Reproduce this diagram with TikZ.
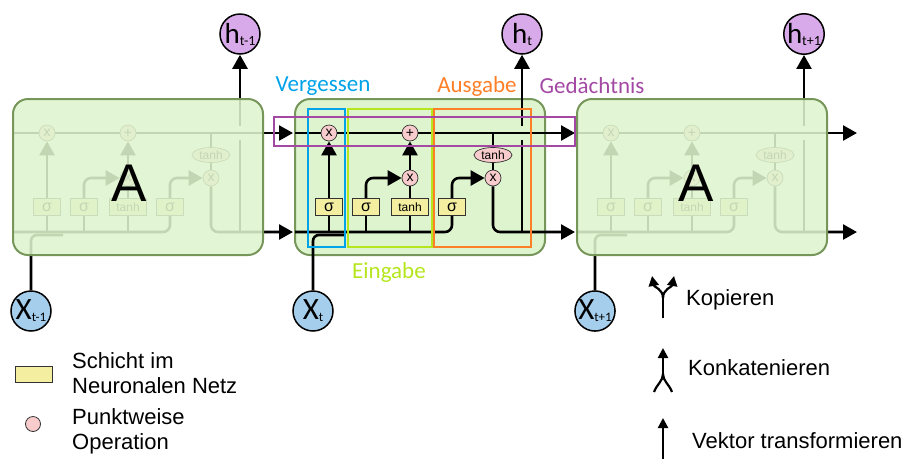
\documentclass[tikz,border=0pt]{standalone}
\usepackage{fontspec}
\setmainfont{Liberation Sans}
\newfontfamily\carl{Carlito}
\usetikzlibrary{arrows.meta,shapes.geometric,calc}
\definecolor{boxfill}{RGB}{222,244,206}
\definecolor{boxline}{RGB}{118,150,90}
\definecolor{opfill}{RGB}{248,204,204}
\definecolor{layerfill}{RGB}{243,238,160}
\definecolor{hfill}{RGB}{217,170,234}
\definecolor{xfill}{RGB}{164,206,236}
\definecolor{cblue}{RGB}{0,162,232}
\definecolor{cgreen}{RGB}{181,230,29}
\definecolor{corange}{RGB}{255,127,39}
\definecolor{cpurple}{RGB}{163,73,164}
\tikzset{
  wire/.style={line width=2.6pt, black},
  arr/.style={wire,-{Triangle[length=14pt,width=15pt]}},
  opnode/.style={circle, draw=black!80, line width=0.7pt, fill=opfill, minimum size=16pt, inner sep=0pt, font=\fontsize{14}{14}\selectfont},
  layerbox/.style={rectangle, draw=black!80, line width=0.7pt, fill=layerfill, minimum height=17pt, minimum width=27pt, inner sep=0pt, font=\fontsize{16}{16}\selectfont},
  tanhbox/.style={layerbox, minimum width=37pt, font=\fontsize{12}{12}\selectfont},
  tanhell/.style={ellipse, draw=black!80, line width=0.7pt, fill=opfill, minimum width=38pt, minimum height=15pt, inner sep=0pt, font=\fontsize{12}{12}\selectfont},
  cellbox/.style={rectangle, rounded corners=15pt, draw=boxline, line width=2pt, fill=boxfill, minimum width=250pt, minimum height=156pt, inner sep=0pt},
  hcirc/.style={circle, draw=black, line width=1.5pt, fill=hfill, minimum size=40pt, inner sep=0pt},
  xcirc/.style={circle, draw=black, line width=1.5pt, fill=xfill, minimum size=40pt, inner sep=0pt},
  gatebox/.style={line width=1.6pt},
  gatelabel/.style={font=\carl\fontsize{23}{23}\selectfont, inner sep=0pt},
  legtext/.style={font=\fontsize{22}{25}\selectfont, align=left, anchor=west, inner sep=0pt},
  legwire/.style={line width=2.2pt, black},
  legarr/.style={legwire,-{Triangle[length=10pt,width=10pt]}}
}
\newcommand{\hlab}[1]{{\carl\fontsize{29}{29}\selectfont h\fontsize{14}{14}\selectfont\raisebox{-2pt}{#1}}}
\newcommand{\xlab}[1]{{\carl\fontsize{31}{31}\selectfont X\fontsize{13}{13}\selectfont\raisebox{-2pt}{#1}}}
% #1 prefix, #2 shift, #3 h node, #4 x node
\newcommand{\lstmcell}[4]{%
\begin{scope}[xshift=#2]
  \node[opnode] (#1fx) at (329,133) {x};
  \node[opnode] (#1px) at (410,133) {+};
  \node[opnode] (#1ix) at (410,178) {x};
  \node[opnode] (#1ox) at (493,178) {x};
  \node[tanhell] (#1th) at (493,155) {tanh};
  \node[layerbox] (#1s1) at (329,207) {σ};
  \node[layerbox] (#1s2) at (366,207) {σ};
  \node[tanhbox] (#1tb) at (410,207) {tanh};
  \node[layerbox] (#1s4) at (452,207) {σ};
  \coordinate (#1cl) at (295,133);
  \coordinate (#1cr) at (575,133);
  \coordinate (#1tj) at (493,133);
  \coordinate (#1bl) at (295,232);
  \coordinate (#1br) at (575,232);
  \coordinate (#1xj) at (345,235);
  \coordinate (#1hj) at (522,232);
  \coordinate (#1hb) at (522,140);
  \coordinate (#1ht) at (522,126);
  \draw[wire] (#1cl) -- (#1fx);
  \draw[wire] (#1fx) -- (#1px);
  \draw[arr] (#1px) -- (#1cr);
  \draw[wire] (#1tj) -- (#1th);
  \draw[wire] (#1th) -- (#1ox);
  \draw[wire, rounded corners=7pt] (#1bl) -| (#1s4);
  \draw[wire, rounded corners=6pt] (#4) |- (#1xj);
  \draw[wire] (#1s1) -- (#1s1 |- #1bl);
  \draw[wire] (#1s2) -- (#1s2 |- #1bl);
  \draw[wire] (#1tb) -- (#1tb |- #1bl);
  \draw[arr] (#1s1) -- (#1fx);
  \draw[arr, rounded corners=7pt] (#1s2) |- (#1ix);
  \draw[wire] (#1tb) -- (#1ix);
  \draw[arr] (#1ix) -- (#1px);
  \draw[arr, rounded corners=7pt] (#1s4) |- (#1ox);
  \draw[arr, rounded corners=7pt] (#1ox) |- (#1br);
  \draw[wire] (#1hj) -- (#1hb);
  \draw[arr] (#1ht) -- (#3);
\end{scope}}
\begin{document}
\begin{tikzpicture}[x=1pt,y=-1pt]
\useasboundingbox (0,0) rectangle (911,459);
% output and input circles
\node[hcirc] (h1) at (240,34) {\hlab{t-1}};
\node[hcirc] (h2) at (522,34) {\hlab{t}};
\node[hcirc] (h3) at (804,34) {\hlab{t+1}};
\node[xcirc] (x1) at (31,311) {\xlab{t-1}};
\node[xcirc] (x2) at (313,311) {\xlab{t}};
\node[xcirc] (x3) at (595,311) {\xlab{t+1}};
% middle cell
\node[cellbox] (mbox) at (420,177) {};
\lstmcell{m}{0pt}{h2}{x2}
% left cell
\lstmcell{l}{-282pt}{h1}{x1}
\node[cellbox, fill opacity=0.88] (lbox) at (138,177) {};
\node[font=\fontsize{53}{53}\selectfont, inner sep=0pt] (la) at (129,183) {A};
% right cell
\lstmcell{r}{282pt}{h3}{x3}
\node[cellbox, fill opacity=0.88] (rbox) at (702,177) {};
\node[font=\fontsize{53}{53}\selectfont, inner sep=0pt] (ra) at (696,183) {A};
% gate frames
\draw[gatebox, cblue] (308,109) rectangle (345,247);
\draw[gatebox, cgreen] (348,109) rectangle (432,247);
\draw[gatebox, corange] (434,109) rectangle (531,247);
\draw[gatebox, cpurple] (274,117) rectangle (575,146);
\node[gatelabel, text=cblue] (lv) at (323,86) {Vergessen};
\node[gatelabel, text=corange] (lo) at (477,86) {Ausgabe};
\node[gatelabel, text=cpurple] (lg) at (592,86) {Gedächtnis};
\node[gatelabel, text=cgreen] (le) at (389,272) {Eingabe};
% legend left
\node[rectangle, draw=black!80, line width=0.9pt, fill=layerfill, minimum width=37pt, minimum height=16pt, inner sep=0pt] (lgl) at (33.5,374) {};
\node[legtext] (tl) at (72,373) {Schicht im\\Neuronalen Netz};
\node[circle, draw=black!80, line width=0.8pt, fill=opfill, minimum size=15pt, inner sep=0pt] (lgo) at (33,424) {};
\node[legtext] (to) at (72,431) {Punktweise\\Operation};
% legend right
\coordinate (kb) at (663,318);
\coordinate (km) at (663,298);
\coordinate (kl) at (652,276);
\coordinate (kr) at (674,276);
\draw[legwire] (kb) -- (km);
\draw[legarr] (km) .. controls (663,289) and (654,287) .. (kl);
\draw[legarr] (km) .. controls (663,289) and (672,287) .. (kr);
\node[legtext] (tk) at (686,300) {Kopieren};
\coordinate (ct) at (663,348);
\coordinate (cm) at (663,374);
\coordinate (cl) at (654,392);
\coordinate (cr) at (672,392);
\draw[legarr] (cm) -- (ct);
\draw[legwire] (cl) .. controls (657,384) and (663,381) .. (cm) .. controls (663,381) and (669,384) .. (cr);
\node[legtext] (tc) at (688,368) {Konkatenieren};
\coordinate (vb) at (663,459);
\coordinate (vt) at (663,418);
\draw[legarr] (vb) -- (vt);
\node[legtext] (tv) at (692,441) {Vektor transformieren};
\end{tikzpicture}
\end{document}
